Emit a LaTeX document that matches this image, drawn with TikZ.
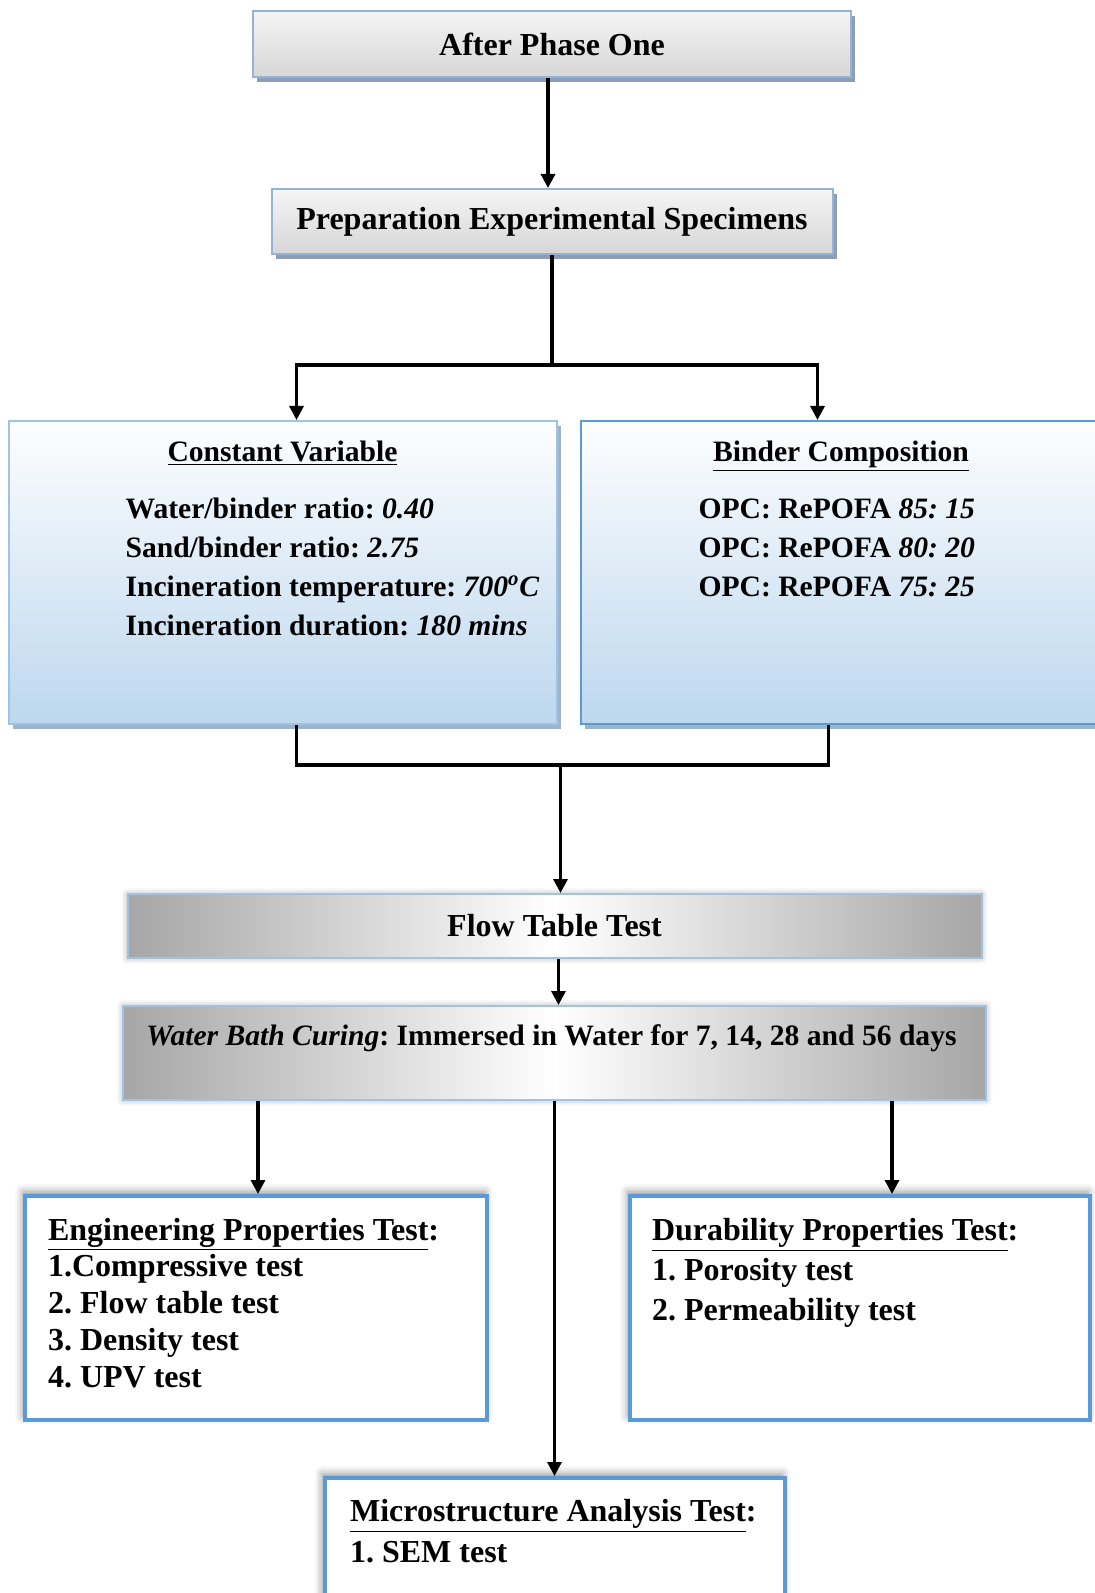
\documentclass[tikz,border=0pt]{standalone}
\usepackage{fontspec}
\setmainfont{Liberation Serif}
\usetikzlibrary{positioning,arrows.meta,shadows,shadows.blur}

\definecolor{headline}{HTML}{95B3D7}
\definecolor{headshadow}{HTML}{8C9DB6}
\definecolor{cvline}{HTML}{9DC3E6}
\definecolor{bcline}{HTML}{5B9BD5}
\definecolor{infofill}{HTML}{BDD7EE}
\definecolor{infoshadow}{HTML}{9FB3CB}
\definecolor{bandgray}{HTML}{A6A6A6}
\definecolor{testline}{HTML}{5B9BD5}

\begin{document}
\frenchspacing
\begin{tikzpicture}[node distance=2cm,on grid,
  >={Triangle[length=7pt,width=7pt]},
  every node/.style={font=\bfseries\fontsize{16}{19}\selectfont},
  small/.style={font=\bfseries\fontsize{14.8}{18}\selectfont},
  link/.style={line width=1.6pt},
  headbox/.style={draw=headline,line width=1pt,top color=white!96!black,bottom color=white!84!black,
    general shadow={fill=headshadow,shadow xshift=2pt,shadow yshift=-2.5pt}},
  infobox/.style={line width=1pt,top color=white!97!infofill,bottom color=infofill,
    general shadow={fill=infoshadow,shadow xshift=2pt,shadow yshift=-2.5pt}},
  bandbox/.style={draw=cvline,line width=1pt,left color=bandgray,right color=bandgray,middle color=white,
    blur shadow={shadow xshift=0pt,shadow yshift=0pt,shadow blur radius=3pt,shadow opacity=35}},
  testbox/.style={draw=testline,line width=2pt,fill=white,
    blur shadow={shadow xshift=-1pt,shadow yshift=2pt,shadow blur radius=4pt,shadow opacity=45}}]
  \useasboundingbox (0,0) rectangle (547.5pt,-796.5pt);

  \node[headbox,minimum width=299pt,minimum height=33pt] (after) at (276pt,-22pt) {After Phase One};
  \node[headbox,minimum width=280.5pt,minimum height=32.5pt] (prep) [below=88.75pt of after] {Preparation Experimental Specimens};
  \node[infobox,draw=cvline,minimum width=274pt,minimum height=151.5pt] (const) [below left=175.5pt and 134.75pt of prep] {};
  \node[infobox,draw=bcline,minimum width=260.5pt,minimum height=151.5pt] (binder) [right=279.25pt of const] {};
  \node[bandbox,minimum width=427pt,minimum height=32pt] (flow) [below right=176.75pt and 136pt of const] {Flow Table Test};
  \node[bandbox,minimum width=431.5pt,minimum height=47pt] (water) [below=63.5pt of flow] {};
  \node[testbox,minimum width=231pt,minimum height=112pt] (eng) [below left=127.5pt and 149.25pt of water] {};
  \node[testbox,minimum width=230pt,minimum height=112pt] (dur) [right=302pt of eng] {};
  \node[testbox,minimum width=230pt,minimum height=112pt] (micro) [below=268.5pt of water] {};

  % texts
  \node[small,anchor=base] (cvtitle) at ([yshift=-20.5pt]const.north) {\underline{Constant Variable}};
  \foreach \txt [count=\i] in {{Water/binder ratio: \textit{0.40}},{Sand/binder ratio: \textit{2.75}},
      {Incineration temperature: \textit{700\textsuperscript{o}C}},{Incineration duration: \textit{180 mins}}}
    \node[small,anchor=base west] (cv\i) at ([xshift=55.5pt,yshift={-49pt-19.5pt*(\i-1)}]const.north west) {\txt};
  \node[small,anchor=base] (bctitle) at ([yshift=-20.5pt]binder.north) {\underline{Binder Composition}};
  \foreach \txt [count=\i] in {{OPC: RePOFA \textit{85: 15}},{OPC: RePOFA \textit{80: 20}},{OPC: RePOFA \textit{75: 25}}}
    \node[small,anchor=base west] (bc\i) at ([xshift=56pt,yshift={-49pt-19.5pt*(\i-1)}]binder.north west) {\txt};
  \node[small,anchor=base] (watertxt) at ([xshift=-1.5pt,yshift=-20pt]water.north)
    {\textit{Water Bath Curing}: Immersed in Water for 7, 14, 28 and 56 days};
  \foreach \txt [count=\i] in {{\underline{Engineering Properties Test}:},{1.Compressive test},
      {2. Flow table test},{3. Density test},{4. UPV test}}
    \node[anchor=base west] (eng\i) at ([xshift=9pt,yshift={-23pt-18.4pt*(\i-1)}]eng.north west) {\txt};
  \foreach \txt [count=\i] in {{\underline{Durability Properties Test}:},{1. Porosity test},{2. Permeability test}}
    \node[anchor=base west] (dur\i) at ([xshift=8.5pt,yshift={-23.25pt-20pt*(\i-1)}]dur.north west) {\txt};
  \foreach \txt [count=\i] in {{\underline{Microstructure Analysis Test}:},{1. SEM test}}
    \node[anchor=base west] (micro\i) at ([xshift=10.25pt,yshift={-22.75pt-20.5pt*(\i-1)}]micro.north west) {\txt};

  % connectors
  \coordinate[below=55pt of prep.south] (split);
  \coordinate[below=20pt of const.south] (join);
  \draw[link,->] ([xshift=-2pt]after.south) -- ([xshift=-2pt]prep.north);
  \draw[link] (prep) -- (split);
  \draw[link,->] (split) -| ([xshift=7pt]const.north);
  \draw[link,->] (split) -| ([xshift=-11.75pt]binder.north);
  \draw[link] ([xshift=7pt]const.south) -- ([xshift=7pt]join) -| ([xshift=-6.25pt]binder.south);
  \draw[link,->] ([xshift=3pt]flow.north |- join) -- ([xshift=3pt]flow.north);
  \draw[link,->] ([xshift=2pt]flow.south) -- ([xshift=2pt]water.north);
  \draw[link,->] ([xshift=1pt]eng.north |- water.south) -- ([xshift=1pt]eng.north);
  \draw[link,->] (water.south) -- (water.south |- micro.north);
  \draw[link,->] ([xshift=16pt]dur.north |- water.south) -- ([xshift=16pt]dur.north);
\end{tikzpicture}
\end{document}
